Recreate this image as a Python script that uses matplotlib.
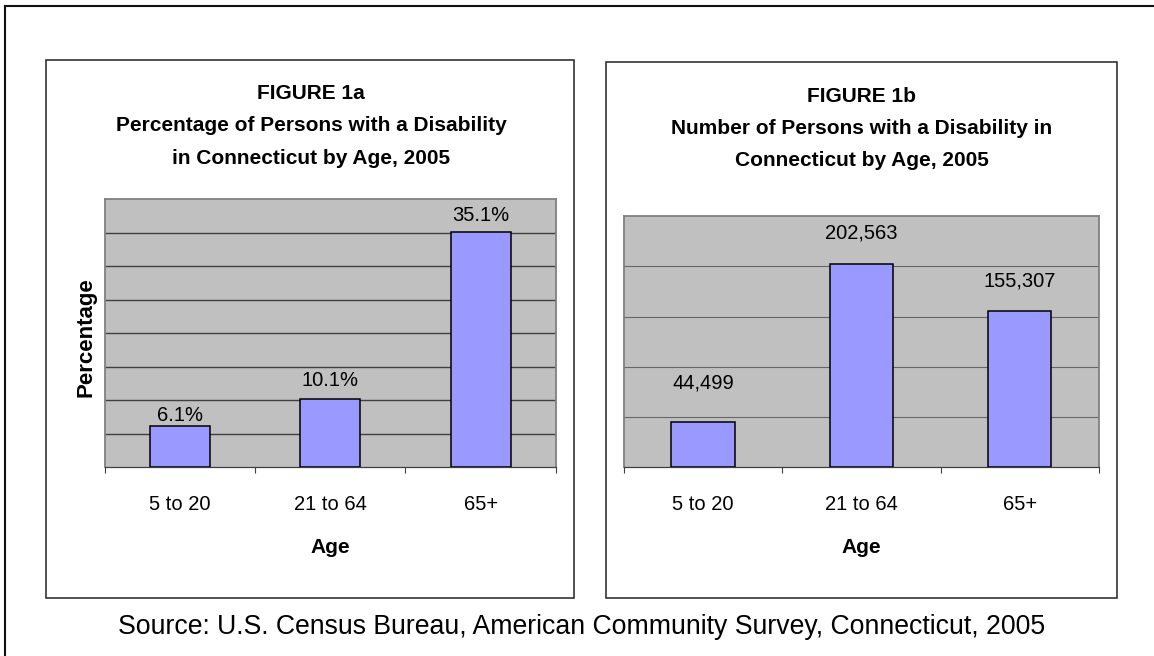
import numpy as np
import matplotlib
matplotlib.use("Agg")
import matplotlib.pyplot as plt
from matplotlib.patches import Rectangle

plt.rcParams['font.family'] = ['Liberation Sans', 'DejaVu Sans']

# ---- data -------------------------------------------------------------
age_groups = ["5 to 20", "21 to 64", "65+"]
pct_disabled = [6.1, 10.1, 35.1]
num_disabled = [44499, 202563, 155307]
pct_labels = ["6.1%", "10.1%", "35.1%"]
num_labels = ["44,499", "202,563", "155,307"]

title_a = ["FIGURE 1a",
           "Percentage of Persons with a Disability",
           "in Connecticut by Age, 2005"]
title_b = ["FIGURE 1b",
           "Number of Persons with a Disability in",
           "Connecticut by Age, 2005"]
source_note = "Source: U.S. Census Bureau, American Community Survey, Connecticut, 2005"

# ---- canvas (pixel based layout) -------------------------------------
W, H = 1154, 656
fig = plt.figure(figsize=(W / 100, H / 100), dpi=100)
fig.patch.set_facecolor("white")

bg = fig.add_axes([0, 0, 1, 1])
bg.set_xlim(0, W)
bg.set_ylim(H, 0)
bg.axis("off")

# outer frame
bg.plot([5, 5], [5.7, H + 10], color="#111111", lw=1.5, clip_on=False)
bg.plot([5, W + 10], [5.7, 5.7], color="#111111", lw=1.5, clip_on=False)

# panel boxes
bg.add_patch(Rectangle((45.7, 60), 574 - 45.7, 597.7 - 60,
                       fill=False, edgecolor="#222222", lw=1.1))
bg.add_patch(Rectangle((606, 61.7), 1116.7 - 606, 597.7 - 61.7,
                       fill=False, edgecolor="#222222", lw=1.1))


def px_axes(x0, y0, x1, y1):
    return fig.add_axes([x0 / W, (H - y1) / H, (x1 - x0) / W, (y1 - y0) / H])


def bar_panel(ax, values, labels, ymax, step, label_offsets, grid_color, grid_lw):
    x = np.arange(len(age_groups))
    ax.set_facecolor("#C0C0C0")
    ax.set_axisbelow(True)
    ax.bar(x, values, width=0.4, color="#9999FF", edgecolor="black",
           linewidth=1.1, zorder=3)
    ax.set_xlim(-0.5, len(age_groups) - 0.5)
    ax.set_ylim(0, ymax)

    ax.set_yticks(np.arange(step, ymax, step))
    ax.yaxis.grid(True, color=grid_color, lw=grid_lw)
    ax.tick_params(axis="y", length=0, labelleft=False)

    ax.set_xticks(x, age_groups)
    ax.set_xticks(np.arange(-0.5, len(age_groups), 1.0), minor=True)
    ax.tick_params(axis="x", which="major", length=0, pad=20, labelsize=14.5)
    ax.tick_params(axis="x", which="minor", length=4.5, width=0.8,
                   color="#404040", direction="out")

    for side in ("top", "left", "right"):
        ax.spines[side].set_color("#808080")
        ax.spines[side].set_linewidth(1.3)
    ax.spines["bottom"].set_color("#404040")
    ax.spines["bottom"].set_linewidth(0.9)

    for xi, v, lab, off in zip(x, values, labels, label_offsets):
        ax.annotate(lab, (xi, v), xytext=(0, off), textcoords="offset points",
                    ha="center", va="baseline", fontsize=14.5)


# ---- Figure 1a: percentage --------------------------------------------
ax_a = px_axes(105, 199, 555.7, 467)
bar_panel(ax_a, pct_disabled, pct_labels, 40, 5,
          label_offsets=[3.8, 9.4, 7.9], grid_color="#404040", grid_lw=1.0)
ax_a.set_xlabel("Age", fontsize=15, fontweight="bold", va="baseline")
ax_a.xaxis.set_label_coords(0.5, (467 - 552.9) / 268)
ax_a.set_ylabel("Percentage", fontsize=16, fontweight="bold",
                ha="center", va="center")
ax_a.yaxis.set_label_coords((86 - 105) / 450.7, (467 - 336.8) / 268)

# ---- Figure 1b: counts ------------------------------------------------
ax_b = px_axes(623.7, 216.3, 1099, 467)
bar_panel(ax_b, num_disabled, num_labels, 250000, 50000,
          label_offsets=[24.3, 18.2, 18.1], grid_color="#666666", grid_lw=0.8)
ax_b.set_xlabel("Age", fontsize=15, fontweight="bold", va="baseline")
ax_b.xaxis.set_label_coords(0.5, (467 - 552.9) / 250.7)

# ---- titles -----------------------------------------------------------
for line, yb in zip(title_a, [98.6, 131.4, 164.3]):
    bg.text(311, yb, line, ha="center", va="baseline",
            fontsize=15, fontweight="bold")
for line, yb in zip(title_b, [101.8, 133.9, 166.0]):
    bg.text(861.5, yb, line, ha="center", va="baseline",
            fontsize=15, fontweight="bold")

# ---- source note ------------------------------------------------------
bg.text(581.2, 634.3, source_note, ha="center", va="baseline", fontsize=19.2)

fig.savefig("out.png", dpi=100)
